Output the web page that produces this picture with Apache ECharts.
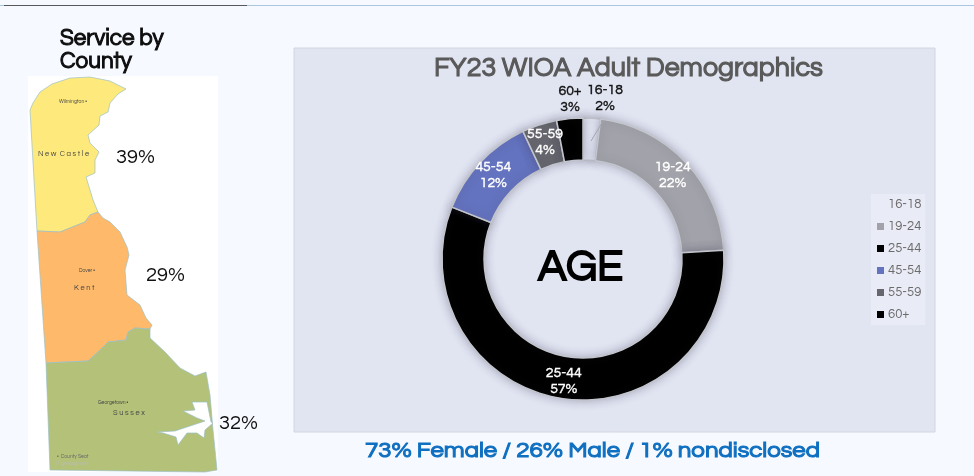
<!DOCTYPE html>
<html><head><meta charset="utf-8">
<style>html,body{margin:0;padding:0;background:#f6f9ff}#c{width:974px;height:476px}</style>
<script src="https://cdn.jsdelivr.net/npm/echarts@6/dist/echarts.min.js"></script></head>
<body><div id="c"></div>
<script>
const ageCategories=['16-18','19-24','25-44','45-54','55-59','60+'];
const ageValues=[2,22,57,12,4,3];
const ageColors=['#e9ecf8','#a2a2aa','#000000','#6473bf','#66666e','#000000'];
const countyNames=['New Castle','Kent','Sussex'];
const countyValues=[39,29,32];
const countyColors=['#fee97c','#feb96b','#b3c179'];
const countyOutlines={
'New Castle':[[30,110],[33,103],[40,92],[52,84],[70,78],[90,77],[110,81],[126,89],[118,94],[110,103],[108,112],[100,116],[99,125],[88,135],[90,143],[99,152],[95,160],[95,173],[86,177],[90,190],[93,200],[98,212],[90,215],[85,222],[70,228],[60,232],[37,231]],
'Kent':[[37,231],[60,232],[70,228],[85,222],[90,215],[98,212],[103,218],[110,222],[120,232],[127,247],[129,255],[125,270],[127,295],[140,305],[146,318],[152,325],[150,329],[135,328],[128,332],[126,340],[108,342],[100,350],[88,361],[46,363]],
'Sussex':[[46,363],[88,361],[100,350],[108,342],[126,340],[128,332],[135,328],[150,329],[150,338],[165,352],[180,368],[195,376],[206,372],[210,395],[213,430],[217,470],[205,472],[50,470]]
};
const bayOutline=[[192,402],[207,402],[211,422],[213,423],[205,430],[204,438],[197,433],[187,433],[178,445],[176,437],[163,433],[157,432],[175,431],[187,427],[205,421],[197,418],[183,411],[195,410]];
const features=countyNames.map(n=>({type:'Feature',properties:{name:n},geometry:{type:'Polygon',coordinates:[countyOutlines[n].map(p=>[p[0],-p[1]])]}}));
features.push({type:'Feature',properties:{name:'bay'},geometry:{type:'Polygon',coordinates:[bayOutline.map(p=>[p[0],-p[1]])]}});
echarts.registerMap('de',{type:'FeatureCollection',features});
const chart=echarts.init(document.getElementById('c'),null,{renderer:'canvas'});
const F='"Century Gothic","Questrial",Lato,"Open Sans",sans-serif';
const txt=(l,t,s,size,fill,bold,sx)=>({type:'text',x:l,y:t,scaleX:sx||1,z:20,style:Object.assign({text:s,fontFamily:F,fontSize:size,fill},bold?{stroke:fill,lineWidth:bold}:{})});
const boldLine=(l,t,s,size,fill,bold)=>{const o=txt(l,t,s,size,fill,bold);o.style.lineHeight=23;return o;};
chart.setOption({
 animation:false,
 backgroundColor:'#f6f9ff',
 legend:{orient:'vertical',left:871,top:194,itemWidth:7,itemHeight:7,itemGap:9,icon:'rect',backgroundColor:'#e9ebf6',padding:[4,4,4,6],
  itemStyle:{borderWidth:0,shadowBlur:0},
  textStyle:{fontFamily:F,fontSize:13,color:'#6b6b6b',padding:[0,0,0,-1]},data:ageCategories},
 series:[
 {type:'map',map:'de',roam:false,aspectScale:1,left:30,top:77,width:187,height:395,z:3,silent:true,showLegendSymbol:false,
  label:{show:false},
  itemStyle:{borderColor:'#9cc0c4',borderWidth:0.7},
  data:[...countyNames.map((n,i)=>({name:n,value:countyValues[i],itemStyle:{areaColor:countyColors[i]}})),{name:'bay',value:0,itemStyle:{areaColor:'#ffffff'}}]},
 {type:'pie',center:[583,259],radius:[99,141],startAngle:90,clockwise:true,z:5,
  data:ageCategories.map((n,i)=>{
    const outer=i===0||i===5;
    return {name:n,value:ageValues[i],itemStyle:{color:ageColors[i]},label:outer?{color:'#111',textBorderColor:'#111'}:{}};
  }),
  itemStyle:{borderColor:'#c3c5cc',borderWidth:1.5,shadowBlur:10,shadowColor:'rgba(60,60,90,0.35)'},
  label:{show:true,position:'inside',formatter:p=>p.name+'\n'+p.value+'%',fontFamily:F,fontSize:14,color:'#fff',lineHeight:16,textBorderColor:'#fff',textBorderWidth:0.4},
  labelLayout:p=>{
    if(p.dataIndex===0)return {x:605,y:98};
    if(p.dataIndex===5)return {x:570,y:99};
    return {};
  },
  labelLine:{show:false}}
 ],
 graphic:[
  {type:'rect',z:0,shape:{x:294,y:48,width:641,height:384},style:{fill:'#e1e4f1',stroke:'#d4d6de'}},
  {type:'rect',z:0,shape:{x:0,y:5,width:974,height:1},style:{fill:'#a9c6e0'}},
  {type:'rect',z:0,shape:{x:4,y:5,width:243,height:1},style:{fill:'#55585c'}},
  {type:'rect',z:0,shape:{x:28,y:76,width:190,height:396},style:{fill:'#ffffff'}},
  {type:'line',z:21,shape:{x1:591,y1:141,x2:603,y2:121},style:{stroke:'#a6a6ae',lineWidth:1}},
  boldLine(60,27,'Service by\nCounty',22.5,'#0d0d0d',1),
  txt(434,55,'FY23 WIOA Adult Demographics',26.8,'#595959',1.1),
  txt(538,246,'AGE',43,'#000',1.8),
  txt(365,440,'73% Female / 26% Male / 1% nondisclosed',21,'#0f6fc0',1,1.143),
  txt(116,147,countyValues[0]+'%',20,'#111'),
  txt(146,265,countyValues[1]+'%',20,'#111'),
  txt(219,413,countyValues[2]+'%',20,'#111'),
  txt(38,150,'N e w  C a s t l e',7.5,'#444'),
  txt(74,284,'K e n t',7.5,'#444'),
  txt(113,409,'S u s s e x',7.5,'#444'),
  txt(59,99,'Wilmington \u2022',5,'#444'),
  txt(79,268,'Dover \u2022',5,'#444'),
  txt(98,400,'Georgetown \u2022',5,'#444'),
  txt(57,454,'\u2022  County Seat',5,'#666'),
  txt(56,461,'\u00a9 geology.com',5,'#bbb')
 ]
});
</script></body></html>
